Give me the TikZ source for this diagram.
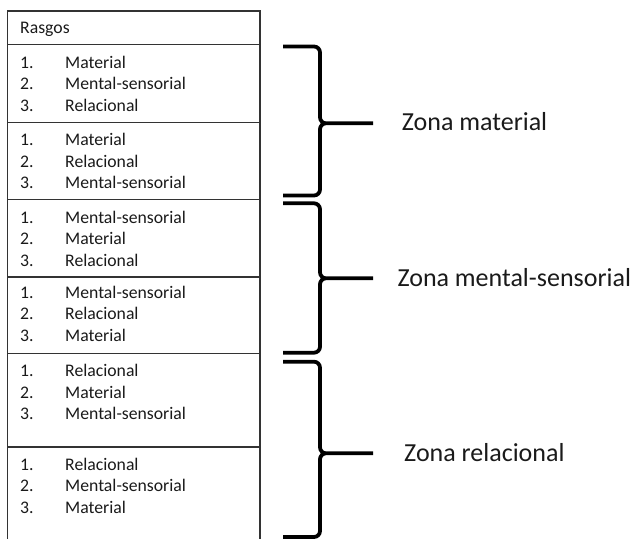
\documentclass[tikz,border=0pt]{standalone}
\usepackage{fontspec}
\setmainfont{Carlito}
\usetikzlibrary{positioning}
\definecolor{tabline}{HTML}{333333}
\definecolor{textgray}{HTML}{1A1A1A}

\begin{document}
\begin{tikzpicture}[x=1pt, y=-1pt,
    row/.style={
        draw=tabline, line width=1.4pt, anchor=north west,
        minimum width=252.5pt, inner sep=0pt, outer sep=0pt
    },
    items/.style={
        inner sep=0pt, anchor=base west, text=textgray,
        font=\fontsize{17.7}{21.6}\selectfont
    },
    zone/.style={
        inner sep=0pt, anchor=base west, text=textgray,
        font=\fontsize{26}{30}\selectfont
    },
    zonebrace/.style={
        draw=black, line width=3.8pt, rounded corners=6pt
    }
]
\useasboundingbox (0,0) rectangle (637,539);

% Table rows
\node[row, minimum height=33.7pt] (r0) at (7.5,11) {};
\node[row, minimum height=78pt, below=0pt of r0] (r1) {};
\node[row, minimum height=76.6pt, below=0pt of r1] (r2) {};
\node[row, minimum height=77.7pt, below=0pt of r2] (r3) {};
\node[row, minimum height=76.5pt, below=0pt of r3] (r4) {};
\node[row, minimum height=93.5pt, below=0pt of r4] (r5) {};
\node[row, draw=none, minimum height=92pt, below=0pt of r5] (r6) {};
\draw[draw=tabline, line width=1.4pt] (r6.north west) -- (r6.south west);
\draw[draw=tabline, line width=1.4pt] (r6.north east) -- (r6.south east);

% Row texts
\node[items] (hdr) at (20,33.3) {Rasgos};
\node[items] (t1) at (20,68) {\begin{tabular}[t]{@{}p{45pt}@{}l@{}}
    1. & Material\\ 2. & Mental-sensorial\\ 3. & Relacional\end{tabular}};
\node[items] (t2) at (20,145.7) {\begin{tabular}[t]{@{}p{45pt}@{}l@{}}
    1. & Material\\ 2. & Relacional\\ 3. & Mental-sensorial\end{tabular}};
\node[items] (t3) at (20,223.3) {\begin{tabular}[t]{@{}p{45pt}@{}l@{}}
    1. & Mental-sensorial\\ 2. & Material\\ 3. & Relacional\end{tabular}};
\node[items] (t4) at (20,298.3) {\begin{tabular}[t]{@{}p{45pt}@{}l@{}}
    1. & Mental-sensorial\\ 2. & Relacional\\ 3. & Material\end{tabular}};
\node[items] (t5) at (20,376.7) {\begin{tabular}[t]{@{}p{45pt}@{}l@{}}
    1. & Relacional\\ 2. & Material\\ 3. & Mental-sensorial\end{tabular}};
\node[items] (t6) at (20,470) {\begin{tabular}[t]{@{}p{45pt}@{}l@{}}
    1. & Relacional\\ 2. & Mental-sensorial\\ 3. & Material\end{tabular}};

% Zone labels
\node[zone] (zmat) at (401.7,130.7) {Zona material};
\node[zone] (zment) at (397.3,286) {Zona mental-sensorial};
\node[zone] (zrel) at (404,461.7) {Zona relacional};

% Braces
\draw[zonebrace] (283,46.5) -| (320,123.3) -- (373,123.3)
    (283,195.5) -| (320,123.3) -- (330,123.3);
\draw[zonebrace] (283,203.3) -| (320,278.3) -- (373,278.3)
    (283,352.7) -| (320,278.3) -- (330,278.3);
\draw[zonebrace] (283,361.7) -| (320,453.3) -- (373,453.3)
    (283,537) -| (320,453.3) -- (330,453.3);

\end{tikzpicture}
\end{document}
